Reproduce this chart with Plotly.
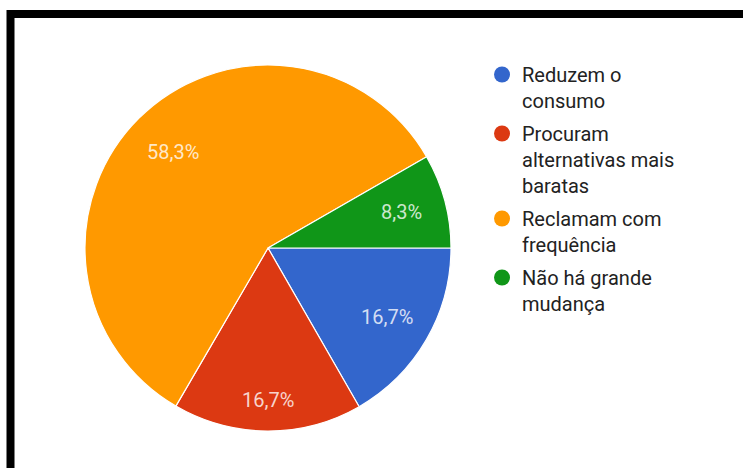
import math
import plotly.graph_objects as go

# Survey answers and their shares (%)
categories = [
    "Reduzem o consumo",
    "Procuram alternativas mais baratas",
    "Reclamam com frequência",
    "Não há grande mudança",
]
legend_lines = [
    "Reduzem o<br>consumo",
    "Procuram<br>alternativas mais<br>baratas",
    "Reclamam com<br>frequência",
    "Não há grande<br>mudança",
]
shares = [16.7, 16.7, 58.3, 8.3]
colors = ["#3366CC", "#DC3912", "#FF9900", "#109618"]

W, H = 743, 468
FONT = "Roboto, Arial, sans-serif"

# Pie placement (pixels) and start angle (clockwise from 12 o'clock)
CX, CY, R = 268, 248, 183
START = 90
# radial position of each percentage label, as a fraction of the radius
LABEL_RADIUS = [0.75, 0.83, 0.74, 0.755]

labels_pt = [f"{v:.1f}%".replace(".", ",") for v in shares]

fig = go.Figure()
fig.add_trace(go.Pie(
    labels=categories,
    values=shares,
    textinfo="none",
    marker=dict(colors=colors, line=dict(color="white", width=1.2)),
    sort=False,
    direction="clockwise",
    rotation=START,
    showlegend=False,
    hoverinfo="label+percent",
    domain=dict(x=[(CX - R) / W, (CX + R) / W], y=[(H - CY - R) / H, (H - CY + R) / H]),
))

# Percentage labels on the bisector of each slice
total = sum(shares)
acc = 0.0
annotations = []
for v, txt, f in zip(shares, labels_pt, LABEL_RADIUS):
    mid = math.radians(START + (acc + v / 2) / total * 360)
    acc += v
    annotations.append(dict(
        xref="paper", yref="paper",
        x=(CX + f * R * math.sin(mid)) / W,
        y=(H - CY + f * R * math.cos(mid)) / H,
        text=txt, showarrow=False, xanchor="center", yanchor="middle",
        font=dict(family=FONT, size=20, color="rgba(255,255,255,0.8)"),
    ))

# Legend entries with round markers
for i, (name, col) in enumerate(zip(legend_lines, colors)):
    fig.add_trace(go.Scatter(
        x=[None], y=[None], mode="markers", name=name,
        legendgroup=f"g{i}",
        marker=dict(symbol="circle", size=16, color=col),
        hoverinfo="skip",
    ))

fig.update_layout(
    width=W, height=H,
    margin=dict(l=0, r=0, t=0, b=0),
    paper_bgcolor="white",
    plot_bgcolor="white",
    xaxis=dict(visible=False),
    yaxis=dict(visible=False),
    font=dict(family=FONT, color="#222222"),
    annotations=annotations,
    legend=dict(
        x=482 / W, y=(H - 55) / H, xanchor="left", yanchor="top",
        font=dict(family=FONT, size=20, color="#222222"),
        valign="top",
        tracegroupgap=4,
        bgcolor="rgba(0,0,0,0)",
        itemclick=False, itemdoubleclick=False,
    ),
    shapes=[
        # black frame along the top and left edges
        dict(type="rect", xref="paper", yref="paper",
             x0=10.5 / W, x1=1.05, y0=-0.05, y1=(H - 14) / H,
             line=dict(color="black", width=8), fillcolor="rgba(0,0,0,0)"),
    ],
)

fig.write_html("out.html")
